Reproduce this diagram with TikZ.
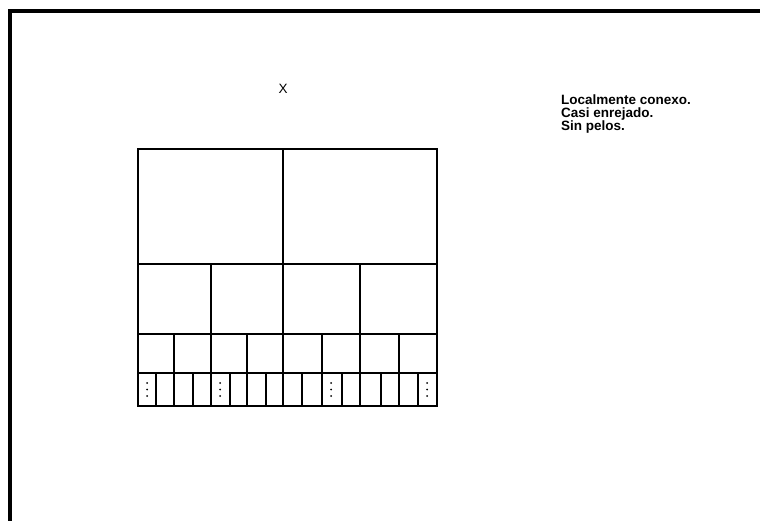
\documentclass[tikz,border=0pt]{standalone}
\usepackage{fontspec}
\setmainfont{Liberation Sans}
\begin{document}
\begin{tikzpicture}[x=1pt, y=-1pt, every node/.style={font=\fontsize{13.5}{13}\selectfont, inner sep=0pt}]
\useasboundingbox (0,0) rectangle (760,521);
\draw[line width=4pt] (10,521) -- (10,11) -- (760,11);
\node (xlabel) at (283,89) {X};
\node[anchor=north west, align=left, font=\fontsize{13.5}{12.8}\selectfont\bfseries] (props) at (561,95) {Localmente conexo.\\Casi enrejado.\\Sin pelos.};
% arbol en cajas
\draw[line width=2.4pt] (138,149) rectangle (437,406);
\draw[line width=2.4pt] (138,264) -- (437,264);
\draw[line width=2.4pt] (138,334) -- (437,334);
\draw[line width=2.4pt] (138,373) -- (437,373);
\draw[line width=2.4pt] (283,149) -- (283,406);
\foreach \x in {211,360} \draw[line width=2.4pt] (\x,264) -- (\x,406);
\foreach \x in {174,247,322,399} \draw[line width=2.4pt] (\x,334) -- (\x,406);
\foreach \x in {156,193,230,266,302,342,381,418} \draw[line width=2.4pt] (\x,373) -- (\x,406);
\foreach \x in {147,220,331,427}
  \foreach \y in {383,389.5,396} \fill (\x,\y) circle (1pt);
\end{tikzpicture}
\end{document}
